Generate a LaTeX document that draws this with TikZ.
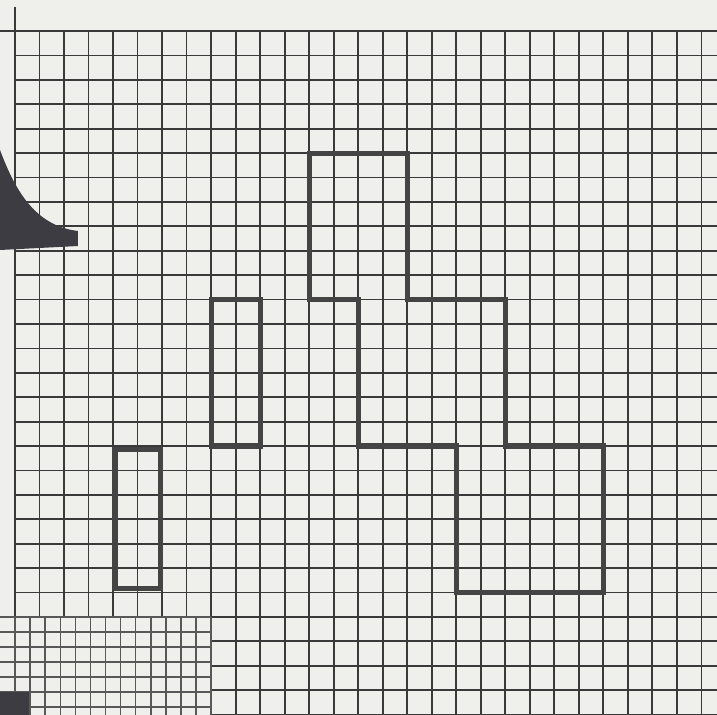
\documentclass[tikz,border=0pt]{standalone}
\usepackage{tikz}
\definecolor{paper}{HTML}{EFEFEB}
\definecolor{gridc}{HTML}{3A3A3A}
\definecolor{thickc}{HTML}{444444}
\definecolor{darkc}{HTML}{3C3C42}
\tikzset{
  gridline/.style={draw=gridc,line width=0.5pt},
  fineline/.style={draw=gridc!85,line width=0.4pt},
  outline/.style={draw=thickc,line width=1.45pt,line join=miter},
}
\begin{document}
\begin{tikzpicture}[x=0.01cm,y=-0.01cm]
\useasboundingbox (0,0) rectangle (717,715);
\fill[paper] (0,0) rectangle (717,715);
\draw[gridline] (15,7) -- (15,31);
\draw[gridline] (0,31) -- (15,31);
% coarse grid, one unit = one cell
\begin{scope}[shift={(15,31)},x=0.245cm,y=-0.244cm]
  \foreach \i in {0,1,2,3,4,5,6,7} {\draw[gridline] (\i,0) -- (\i,24);}
  \foreach \i in {8,9,10,11,12,13,14,15,16,17,18,19,20,21,22,23,24,25,26,27,28} {\draw[gridline] (\i,0) -- (\i,28);}
  \foreach \j in {0,1,2,3,4,5,6,7,8,9,10,11,12,13,14,15,16,17,18,19,20,21,22,23,24} {\draw[gridline] (0,\j) -- (28.7,\j);}
  \foreach \j in {25,26,27,28} {\draw[gridline] (8,\j) -- (28.7,\j);}
  % thick outlines
  \draw[outline] (12,5) -- (16,5) -- (16,11) -- (20,11) -- (20,17) -- (24,17) -- (24,23) -- (18,23) -- (18,17) -- (14,17) -- (14,11) -- (12,11) -- cycle;
  \draw[outline] (8,11) rectangle (10,17);
  \draw[outline] (4.08,17.15) rectangle (5.92,22.85);
\end{scope}
% fine grid in the lower left corner, one unit = one small cell
\begin{scope}[shift={(15,617)},x=0.1508cm,y=-0.15cm]
  \foreach \k in {0,1,2,3,4,5,6,7,8,9,10,11,12,13} {\draw[fineline] (\k,0) -- (\k,6.6);}
  \foreach \k in {0,1,2,3,4,5,6} {\draw[fineline] (-1,\k) -- (13,\k);}
\end{scope}
% dark shapes at the left edge
\fill[darkc] (0,150) .. controls (15,190) and (35,226) .. (78,231) -- (78,246) -- (0,250) -- cycle;
\fill[darkc] (0,692) rectangle (29,715);
\end{tikzpicture}
\end{document}
